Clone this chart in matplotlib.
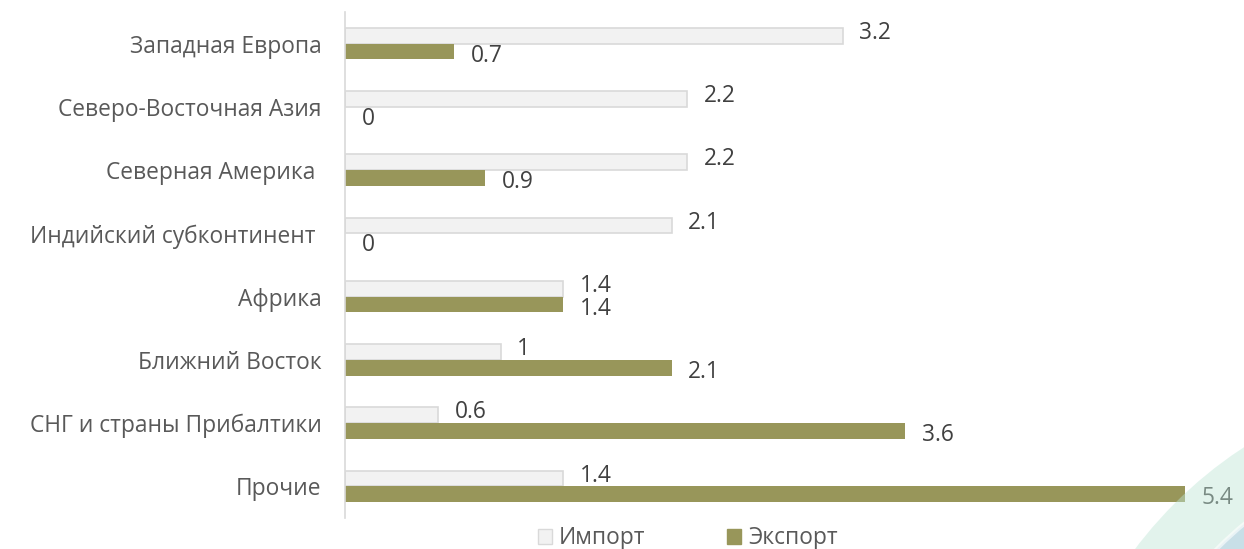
import matplotlib.pyplot as plt
from matplotlib.patches import Circle, Patch

plt.rcParams['font.family'] = ['Open Sans', 'DejaVu Sans']

# data (top to bottom)
regions = ['Западная Европа', 'Северо-Восточная Азия', 'Северная Америка ',
           'Индийский субконтинент ', 'Африка', 'Ближний Восток',
           'СНГ и страны Прибалтики', 'Прочие']
imports = [3.2, 2.2, 2.2, 2.1, 1.4, 1, 0.6, 1.4]
exports = [0.7, 0, 0.9, 0, 1.4, 2.1, 3.6, 5.4]
import_labels = ['3.2', '2.2', '2.2', '2.1', '1.4', '1', '0.6', '1.4']
export_labels = ['0.7', '0', '0.9', '0', '1.4', '2.1', '3.6', '5.4']

text_col = '#595959'
lab_col = '#404040'
imp_col = '#f2f2f2'
imp_edge = '#d9d9d9'
exp_col = '#98965a'
fs = 16.4

fig = plt.figure(figsize=(12.44, 5.49), dpi=100)
ax = fig.add_axes([345 / 1244, 31 / 549, (1216 - 345) / 1244, (537 - 31) / 549])
ax.set_facecolor('none')

y = list(range(len(regions)))
h = 0.25
ax.barh([v - h / 2 for v in y], imports, height=h, color=imp_col,
        edgecolor=imp_edge, linewidth=1.2, label='Импорт')
ax.barh([v + h / 2 for v in y], exports, height=h, color=exp_col,
        label='Экспорт')

for i in y:
    ax.annotate(import_labels[i], (imports[i], i - h / 2), xytext=(12, 2),
                textcoords='offset points', va='center', ha='left',
                fontsize=fs, color=lab_col)
    ax.annotate(export_labels[i], (exports[i], i + h / 2), xytext=(12, -3),
                textcoords='offset points', va='center', ha='left',
                fontsize=fs, color=lab_col)

ax.set_xlim(0, 5.6)
ax.set_ylim(len(regions) - 0.5, -0.5)
ax.set_yticks(y)
ax.set_yticklabels(regions, fontsize=fs, color=text_col)
ax.tick_params(axis='y', length=0, pad=17)
ax.set_xticks([])
for s in ['top', 'right', 'bottom']:
    ax.spines[s].set_visible(False)
ax.spines['left'].set_color('#d9d9d9')
ax.spines['left'].set_linewidth(1.2)

handles = [Patch(facecolor=imp_col, edgecolor=imp_edge, label='Импорт'),
           Patch(facecolor=exp_col, edgecolor=exp_col, label='Экспорт')]
fig.legend(handles=handles, loc='lower center', bbox_to_anchor=(0.553, -0.04),
           ncol=2, frameon=False, fontsize=fs, labelcolor=text_col,
           handlelength=0.6, handleheight=0.6, handletextpad=0.3,
           columnspacing=3.6)

# decorative swoosh in the bottom-right corner
fig.patches.append(Circle((14.8, -2.6), 4.32, transform=fig.dpi_scale_trans,
                          facecolor='#bfe6d6', alpha=0.45, edgecolor='none',
                          zorder=5))
fig.patches.append(Circle((14.8, -2.6), 3.70, transform=fig.dpi_scale_trans,
                          facecolor='#b8d3e4', alpha=0.6, edgecolor='white',
                          linewidth=3, zorder=6))

fig.savefig('out.png', dpi=100)
